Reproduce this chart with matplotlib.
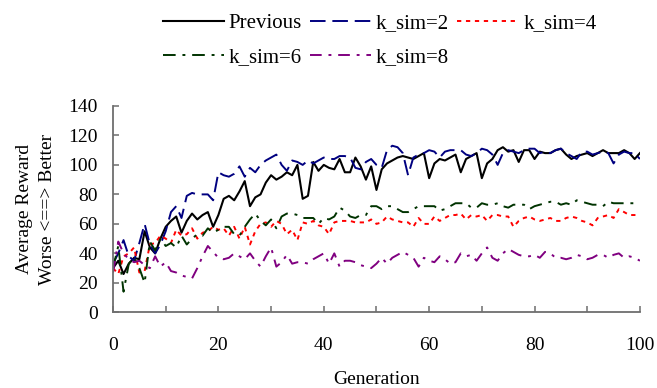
import matplotlib
matplotlib.use("Agg")
import matplotlib.pyplot as plt
import numpy as np

generations = list(range(0, 101))

previous = [30, 35, 26, 33, 37, 36, 55, 44, 40, 50, 58, 62, 65, 54, 62, 67, 63, 66, 68, 58,
            66, 77, 79, 76, 82, 89, 72, 78, 80, 88, 93, 90, 92, 95, 93, 100, 77, 79, 102, 96,
            100, 98, 97, 104, 95, 95, 105, 99, 90, 99, 83, 97, 101, 103, 105, 106, 105, 104, 106, 108,
            91, 101, 104, 103, 105, 107, 95, 104, 106, 108, 91, 101, 104, 110, 112, 109, 110, 102, 110, 110,
            104, 109, 108, 108, 110, 111, 107, 104, 106, 107, 108, 106, 108, 110, 108, 108, 108, 110, 108, 104,
            108]

k_sim2 = [33, 40, 49, 38, 35, 47, 60, 46, 40, 46, 55, 68, 72, 64, 79, 81, 80, 80, 80, 76,
          95, 93, 92, 94, 99, 92, 98, 95, 100, 103, 105, 107, 100, 96, 103, 102, 100, 103, 101, 103,
          105, 104, 104, 106, 106, 105, 98, 97, 102, 104, 100, 98, 110, 113, 112, 108, 93, 105, 107, 108,
          110, 109, 105, 109, 110, 110, 110, 107, 106, 108, 111, 110, 107, 100, 108, 110, 109, 108, 110, 111,
          111, 108, 109, 108, 110, 111, 108, 106, 104, 109, 109, 107, 108, 109, 108, 101, 107, 109, 108, 108,
          104]

k_sim4 = [30, 26, 38, 40, 44, 27, 28, 46, 47, 52, 50, 47, 56, 52, 53, 57, 50, 54, 55, 58,
          56, 57, 52, 58, 50, 58, 46, 55, 60, 61, 58, 62, 60, 53, 56, 49, 61, 60, 62, 59,
          58, 53, 61, 62, 62, 62, 61, 61, 61, 63, 60, 61, 65, 63, 62, 61, 61, 58, 64, 60,
          60, 65, 62, 64, 66, 66, 67, 63, 66, 65, 66, 62, 66, 66, 65, 65, 58, 62, 64, 65,
          63, 62, 63, 64, 62, 62, 64, 65, 64, 62, 61, 59, 64, 65, 66, 64, 70, 68, 66, 66,
          66]

k_sim6 = [30, 45, 14, 33, 37, 30, 20, 48, 42, 50, 45, 47, 44, 52, 46, 50, 53, 52, 57, 54,
          56, 58, 58, 53, 52, 58, 63, 67, 62, 59, 63, 57, 65, 67, 67, 66, 64, 64, 64, 60,
          64, 63, 65, 71, 69, 65, 64, 66, 66, 72, 72, 70, 72, 72, 70, 68, 68, 70, 72, 72,
          72, 72, 69, 70, 72, 74, 74, 74, 71, 71, 74, 73, 73, 74, 72, 71, 73, 73, 73, 70,
          72, 73, 74, 75, 75, 73, 74, 73, 76, 75, 74, 73, 73, 72, 75, 74, 74, 74, 74, 74,
          74]

k_sim8 = [27, 48, 40, 36, 34, 35, 32, 30, 38, 31, 34, 28, 27, 25, 24, 23, 30, 38, 45, 41,
          37, 36, 37, 40, 38, 36, 40, 35, 31, 38, 44, 31, 34, 39, 33, 34, 34, 33, 36, 38,
          40, 33, 40, 31, 35, 35, 34, 32, 31, 30, 33, 37, 33, 37, 39, 41, 39, 37, 31, 37,
          35, 34, 38, 36, 33, 34, 40, 38, 39, 35, 40, 44, 37, 35, 40, 43, 41, 39, 38, 38,
          39, 37, 41, 40, 37, 37, 36, 37, 39, 38, 36, 37, 39, 39, 37, 39, 40, 37, 38, 37,
          35]

series_labels = ["Previous", "k_sim=2", "k_sim=4", "k_sim=6", "k_sim=8"]
x_ticks = [0, 20, 40, 60, 80, 100]
y_ticks = [0, 20, 40, 60, 80, 100, 120, 140]

plt.rcParams['font.family'] = ['Liberation Serif', 'DejaVu Serif']

fig = plt.figure(figsize=(6.57, 3.88), dpi=100)
ax = fig.add_axes([0.172, 0.195, 0.802, 0.532])

lw = 1.4
h1, = ax.plot(generations, previous, color='black', lw=1.5, linestyle='-', label=series_labels[0])
h2, = ax.plot(generations, k_sim2, color='#000080', lw=lw, linestyle=(0, (8, 3.5)), label=series_labels[1])
h3, = ax.plot(generations, k_sim4, color='#ff0000', lw=lw, linestyle=(0, (2.2, 2.4)), label=series_labels[2])
h4, = ax.plot(generations, k_sim6, color='#003300', lw=lw, linestyle=(0, (6.5, 3.5, 1.5, 3.5)), label=series_labels[3])
h5, = ax.plot(generations, k_sim8, color='#800080', lw=lw, linestyle=(0, (6, 3.5, 1.5, 3.5)), label=series_labels[4])

ax.set_xlim(0, 100)
ax.set_ylim(0, 140)
ax.set_xticks(x_ticks)
ax.set_xticks([10, 30, 50, 70, 90], minor=True)
ax.set_yticks(y_ticks)

for s in ['top', 'right']:
    ax.spines[s].set_visible(False)
for s in ['left', 'bottom']:
    ax.spines[s].set_color('#6e6e6e')
    ax.spines[s].set_linewidth(1.3)

ax.tick_params(axis='both', which='both', direction='in', length=4.5, width=1.1,
               color='#6e6e6e', labelsize=14)
ax.tick_params(axis='x', which='both', pad=18)
ax.tick_params(axis='y', which='both', pad=11)

ax.set_xlabel("Generation", fontsize=14, labelpad=12)
ax.set_ylabel("Average Reward\nWorse <==> Better", fontsize=14, labelpad=9, linespacing=1.45)

# order so that the legend fills row by row
order = [h1, h4, h2, h5, h3]
fig.legend(handles=order, labels=[h.get_label() for h in order], ncol=3, frameon=False,
           loc='center', bbox_to_anchor=(0.578, 0.896), fontsize=15,
           handlelength=2.9, handletextpad=0.25, columnspacing=0.4, labelspacing=0.72,
           borderpad=0, borderaxespad=0)

fig.savefig("out.png", dpi=100)
